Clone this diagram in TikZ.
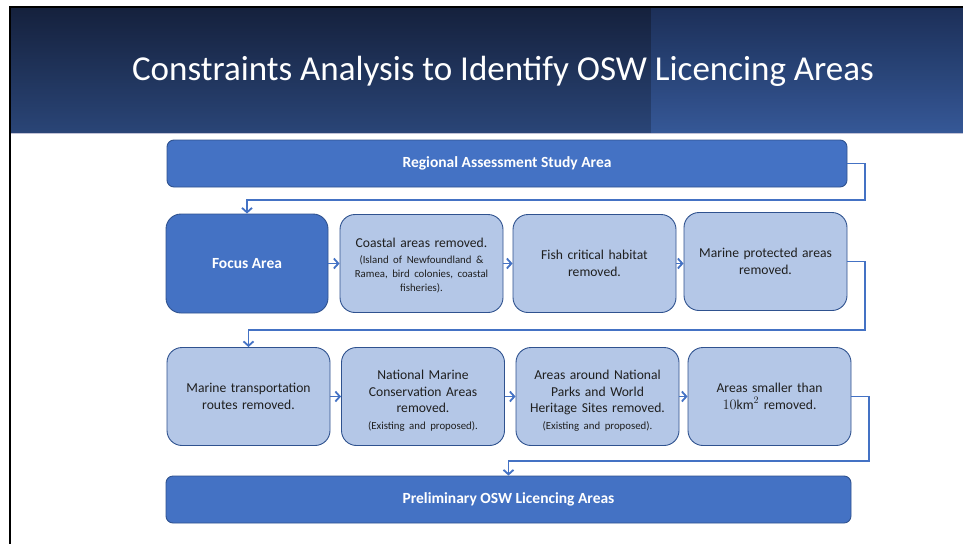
\documentclass[tikz,border=0pt]{standalone}
\usepackage{fontspec}
\setmainfont{Carlito}
\usetikzlibrary{arrows.meta}

\definecolor{boxblue}{HTML}{4472C4}
\definecolor{boxpale}{HTML}{B4C7E7}
\definecolor{boxedge}{HTML}{2F528F}
\definecolor{navytop}{HTML}{15213D}
\definecolor{navybot}{HTML}{2A4577}
\definecolor{bandtop}{HTML}{1F3562}
\definecolor{bandbot}{HTML}{3A5FA2}

\newcommand{\finetext}[1]{{\fontsize{10.8}{14}\selectfont\begin{tabular}[t]{@{}c@{}}#1\end{tabular}}}

\tikzset{
 bar/.style={draw=boxedge,line width=0.9pt,fill=boxblue,rounded corners=7pt,minimum height=47pt,text=white,font=\fontsize{15.5}{18}\selectfont\bfseries},
 stepdark/.style={draw=boxedge,line width=0.9pt,fill=boxblue,rounded corners=15pt,minimum width=162pt,minimum height=99pt,text=white,font=\fontsize{15.5}{18}\selectfont\bfseries},
 steplight/.style={draw=boxedge,line width=0.9pt,fill=boxpale,rounded corners=15pt,minimum width=163pt,minimum height=98pt,text width=156pt,align=center,text=black!88,font=\fontsize{13.6}{16.8}\selectfont},
 flow/.style={draw=boxblue,line width=1.8pt,-{Straight Barb[length=4.5pt,width=10pt]}}
}

\begin{document}
\begin{tikzpicture}[x=1pt,y=-1pt]
 \useasboundingbox (0,0) rectangle (963,544);
 \fill[white] (0,0) rectangle (963,544);
 % header
 \shade[top color=navytop,bottom color=navybot] (11,8) rectangle (963,133);
 \shade[top color=bandtop,bottom color=bandbot,opacity=0.75] (651,8) rectangle (963,133);
 \draw[blue!20!gray!40,line width=0.8pt] (11,133.5) -- (963,133.5);
 \draw[black,line width=2.2pt] (9,7) -- (963,7);
 \draw[black,line width=2.4pt] (10,6) -- (10,544);
 \node[text=white,font=\fontsize{35}{40}\selectfont] (title) at (503,71) {Constraints Analysis to Identify OSW Licencing Areas};

 % boxes
 \node[bar,minimum width=680pt] (study) at (507,163.5) {Regional Assessment Study Area};
 \node[stepdark] (focus) at (247,263.5) {Focus Area};
 \node[steplight] (coastal) at (421.5,263.5) {\rule{0pt}{16pt}Coastal areas removed.\\\finetext{(Island of Newfoundland \&\\Ramea, bird colonies, coastal\\fisheries).}};
 \node[steplight] (fish) at (594.5,263.5) {Fish critical habitat\\removed.};
 \node[steplight] (mpa) at (765.5,261.5) {Marine protected areas\\removed.};
 \node[steplight] (routes) at (248.5,396.5) {Marine transportation\\routes removed.};
 \node[steplight] (nmca) at (423,396.5) {\rule{0pt}{20pt}National Marine\\Conservation Areas\\removed.\\\finetext{(Existing and proposed).}};
 \node[steplight] (parks) at (597.5,396.5) {\rule{0pt}{20pt}Areas around National\\Parks and World\\Heritage Sites removed.\\\finetext{(Existing and proposed).}};
 \node[steplight] (small) at (769.5,396.5) {Areas smaller than\\$10\mathrm{km}^2$ removed.};
 \node[bar,minimum width=685pt] (prelim) at (508.5,499.5) {Preliminary OSW Licencing Areas};

 % connectors
 \coordinate (turn1) at (865,200);
 \coordinate (turn2) at (865,330);
 \coordinate (turn3) at (869,461);
 \draw[flow] (study.east) -| (turn1) -| (focus.north);
 \draw[flow] (focus.east) -- (coastal.west);
 \draw[flow] (coastal.east) -- (fish.west);
 \draw[flow] (fish.east) -- (fish.east -| mpa.west);
 \draw[flow] (mpa.east) -| (turn2) -| (routes.north);
 \draw[flow] (routes.east) -- (nmca.west);
 \draw[flow] (nmca.east) -- (parks.west);
 \draw[flow] (parks.east) -- (small.west);
 \draw[flow] (small.east) -| (turn3) -| (prelim.north);
\end{tikzpicture}
\end{document}
